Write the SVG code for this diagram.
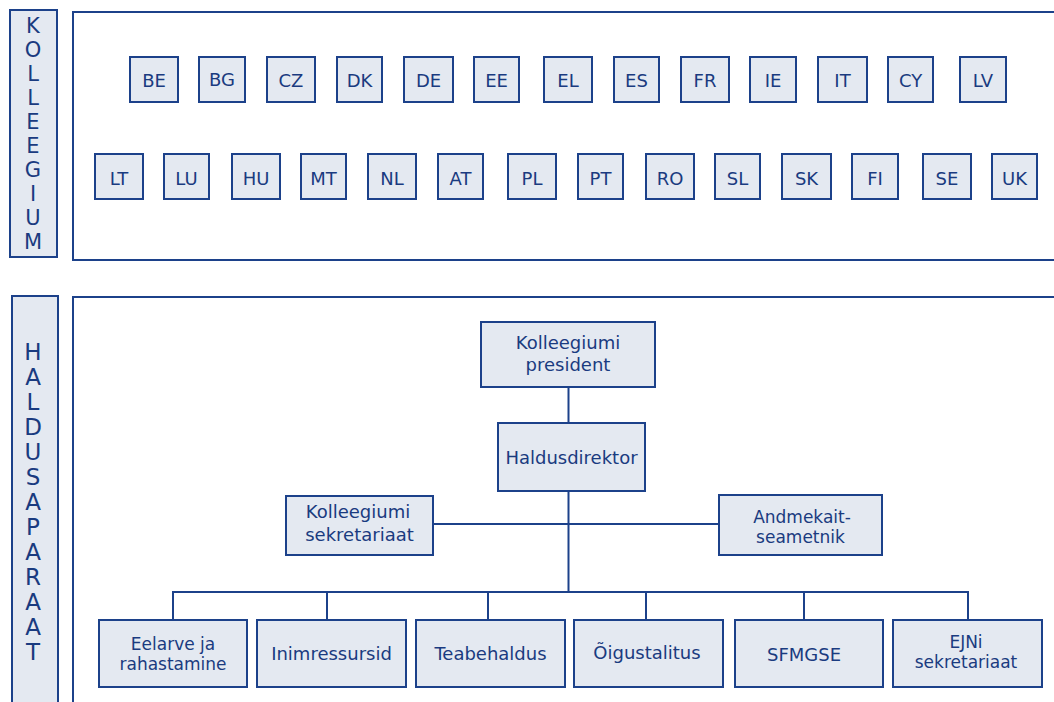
<svg xmlns="http://www.w3.org/2000/svg" width="1054" height="702" viewBox="0 0 1054 702">
<style>
.frame{fill:#ffffff;stroke:#1c418a;stroke-width:2}
.lab{fill:#e4e9f1;stroke:#1c418a;stroke-width:2}
.box{fill:#e4e9f1;stroke:#1c418a;stroke-width:2}
.t{font-family:"DejaVu Sans",Verdana,sans-serif;font-size:18px;fill:#1a3b80;text-anchor:middle}
.t2{font-family:"DejaVu Sans",Verdana,sans-serif;font-size:17px;fill:#1a3b80;text-anchor:middle}
.v{font-family:"DejaVu Sans",Verdana,sans-serif;fill:#1a3b80;text-anchor:middle}
.conn line{stroke:#1c418a;stroke-width:2;fill:none}
</style>
<rect width="1054" height="702" fill="#ffffff"/>
<g id="kolleegium-label">
<rect class="lab" x="10" y="10" width="47" height="247"/>
<text class="v" font-size="21" x="33"><tspan x="33" y="33">K</tspan><tspan x="33" y="57">O</tspan><tspan x="33" y="81">L</tspan><tspan x="33" y="105">L</tspan><tspan x="33" y="129">E</tspan><tspan x="33" y="153">E</tspan><tspan x="33" y="177">G</tspan><tspan x="33" y="201">I</tspan><tspan x="33" y="225">U</tspan><tspan x="33" y="249">M</tspan></text>
</g>
<g id="kolleegium-frame"><rect class="frame" x="73" y="12" width="990" height="248"/></g>
<g id="haldus-label">
<rect class="lab" x="12" y="296" width="46" height="420"/>
<text class="v" font-size="23" x="33"><tspan x="33" y="360">H</tspan><tspan x="33" y="385">A</tspan><tspan x="33" y="410">L</tspan><tspan x="33" y="435">D</tspan><tspan x="33" y="460">U</tspan><tspan x="33" y="485">S</tspan><tspan x="33" y="510">A</tspan><tspan x="33" y="535">P</tspan><tspan x="33" y="560">A</tspan><tspan x="33" y="585">R</tspan><tspan x="33" y="610">A</tspan><tspan x="33" y="635">A</tspan><tspan x="33" y="660">T</tspan></text>
</g>
<g id="haldus-frame"><rect class="frame" x="73" y="297" width="990" height="420"/></g>
<g id="BE"><rect class="box" x="130" y="57" width="48" height="45"/><text class="t" x="154" y="87">BE</text></g>
<g id="BG"><rect class="box" x="199" y="57" width="46" height="45"/><text class="t" x="222" y="86">BG</text></g>
<g id="CZ"><rect class="box" x="267" y="57" width="48" height="45"/><text class="t" x="291" y="87">CZ</text></g>
<g id="DK"><rect class="box" x="337" y="57" width="45" height="45"/><text class="t" x="359.5" y="87">DK</text></g>
<g id="DE"><rect class="box" x="404" y="57" width="49" height="45"/><text class="t" x="428.5" y="87">DE</text></g>
<g id="EE"><rect class="box" x="474" y="57" width="45" height="45"/><text class="t" x="496.5" y="87">EE</text></g>
<g id="EL"><rect class="box" x="544" y="57" width="48" height="45"/><text class="t" x="568" y="87">EL</text></g>
<g id="ES"><rect class="box" x="614" y="57" width="45" height="45"/><text class="t" x="636.5" y="87">ES</text></g>
<g id="FR"><rect class="box" x="681" y="57" width="48" height="45"/><text class="t" x="705" y="87">FR</text></g>
<g id="IE"><rect class="box" x="750" y="57" width="46" height="45"/><text class="t" x="773" y="87">IE</text></g>
<g id="IT"><rect class="box" x="818" y="57" width="49" height="45"/><text class="t" x="842.5" y="87">IT</text></g>
<g id="CY"><rect class="box" x="888" y="57" width="45" height="45"/><text class="t" x="910.5" y="87">CY</text></g>
<g id="LV"><rect class="box" x="960" y="57" width="46" height="45"/><text class="t" x="983" y="87">LV</text></g>
<g id="LT"><rect class="box" x="95" y="154" width="48" height="45"/><text class="t" x="119" y="185">LT</text></g>
<g id="LU"><rect class="box" x="164" y="154" width="45" height="45"/><text class="t" x="186.5" y="185">LU</text></g>
<g id="HU"><rect class="box" x="232" y="154" width="48" height="45"/><text class="t" x="256" y="185">HU</text></g>
<g id="MT"><rect class="box" x="301" y="154" width="45" height="45"/><text class="t" x="323.5" y="185">MT</text></g>
<g id="NL"><rect class="box" x="368" y="154" width="48" height="45"/><text class="t" x="392" y="185">NL</text></g>
<g id="AT"><rect class="box" x="438" y="154" width="45" height="45"/><text class="t" x="460.5" y="185">AT</text></g>
<g id="PL"><rect class="box" x="508" y="154" width="48" height="45"/><text class="t" x="532" y="185">PL</text></g>
<g id="PT"><rect class="box" x="578" y="154" width="45" height="45"/><text class="t" x="600.5" y="185">PT</text></g>
<g id="RO"><rect class="box" x="646" y="154" width="48" height="45"/><text class="t" x="670" y="185">RO</text></g>
<g id="SL"><rect class="box" x="715" y="154" width="45" height="45"/><text class="t" x="737.5" y="185">SL</text></g>
<g id="SK"><rect class="box" x="782" y="154" width="49" height="45"/><text class="t" x="806.5" y="185">SK</text></g>
<g id="FI"><rect class="box" x="852" y="154" width="46" height="45"/><text class="t" x="875" y="185">FI</text></g>
<g id="SE"><rect class="box" x="923" y="154" width="48" height="45"/><text class="t" x="947" y="185">SE</text></g>
<g id="UK"><rect class="box" x="992" y="154" width="45" height="45"/><text class="t" x="1014.5" y="185">UK</text></g>
<g class="conn" id="connectors">
<line x1="568.5" y1="387" x2="568.5" y2="423"/>
<line x1="568.5" y1="491" x2="568.5" y2="592"/>
<line x1="433" y1="524" x2="719" y2="524"/>
<line x1="172" y1="592" x2="969" y2="592"/>
<line x1="173" y1="591" x2="173" y2="620"/>
<line x1="327" y1="592" x2="327" y2="620"/>
<line x1="488" y1="592" x2="488" y2="620"/>
<line x1="646" y1="592" x2="646" y2="620"/>
<line x1="804" y1="592" x2="804" y2="620"/>
<line x1="968" y1="591" x2="968" y2="620"/>
</g>
<g id="president"><rect class="box" x="481" y="322" width="174" height="65"/><text class="t" x="568" y="349">Kolleegiumi</text><text class="t" x="568" y="371">president</text></g>
<g id="haldusdirektor"><rect class="box" x="498" y="423" width="147" height="68"/><text class="t" x="571.5" y="464">Haldusdirektor</text></g>
<g id="kolleegiumi-sekretariaat"><rect class="box" x="286" y="496" width="147" height="59"/><text class="t" x="358" y="518">Kolleegiumi</text><text class="t" x="359.5" y="541">sekretariaat</text></g>
<g id="andmekaitseametnik"><rect class="box" x="719" y="495" width="163" height="60"/><text class="t2" x="802" y="523">Andmekait-</text><text class="t2" x="800.5" y="543">seametnik</text></g>
<g id="eelarve"><rect class="box" x="99" y="620" width="148" height="67"/><text class="t2" x="173" y="650">Eelarve ja</text><text class="t2" x="173" y="670">rahastamine</text></g>
<g id="inimressursid"><rect class="box" x="257" y="620" width="149" height="67"/><text class="t" x="331.5" y="660">Inimressursid</text></g>
<g id="teabehaldus"><rect class="box" x="416" y="620" width="149" height="67"/><text class="t" x="490.5" y="660">Teabehaldus</text></g>
<g id="oigustalitus"><rect class="box" x="574" y="620" width="149" height="67"/><text class="t" x="647" y="659">Õigustalitus</text></g>
<g id="sfmgse"><rect class="box" x="735" y="620" width="148" height="67"/><text class="t" x="804" y="661">SFMGSE</text></g>
<g id="ejni"><rect class="box" x="893" y="620" width="149" height="67"/><text class="t2" x="966" y="648">EJNi</text><text class="t2" x="966" y="668">sekretariaat</text></g>
</svg>
